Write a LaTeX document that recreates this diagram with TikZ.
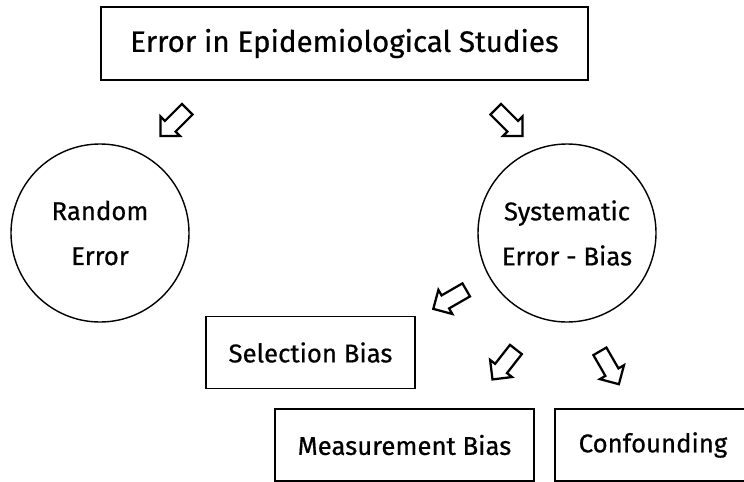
\documentclass[tikz,border=0pt]{standalone}
\usepackage{fontspec}
\setmainfont{Fira Sans}[FakeBold=0.6]
\usepackage{tikz}
\usepackage{tkz-euclide}
\usetikzlibrary{shapes.arrows}

\begin{document}
\begin{tikzpicture}[
    box/.style={draw,line width=1pt,inner sep=0pt,minimum height=1.8cm,font=\fontsize{18.3}{22}\selectfont},
    bubble/.style={draw,circle,line width=1pt,minimum size=4.45cm,inner sep=0pt,align=center,font=\fontsize{18.3}{32}\selectfont},
    hollow/.style={draw,single arrow,line width=1.6pt,minimum height=0.95cm,inner sep=0.16cm,single arrow head extend=0.16cm,single arrow tip angle=90}]
    \useasboundingbox (0,0) rectangle (18.6,12.025);
    \tkzDefPoints{8.6125/10.9375/T,2.5/6.2/R,14.175/6.2/S,7.7625/3.2125/B,10.1125/0.9/M,16.325/0.9/C}
    \tkzDefPoints{4.4125/9.025/a,12.6625/9.025/b,11.325/4.5875/c,12.6625/2.9875/d,15.1875/2.9125/e}
    \node[box,minimum width=12.175cm,minimum height=1.825cm,font=\fontsize{21}{25}\selectfont] (Title) at (T) {Error in Epidemiological Studies};
    \node[bubble] (Rand) at (R) {Random\\Error};
    \node[bubble] (Sys) at (S) {Systematic\\Error - Bias};
    \node[box,minimum width=5.225cm] (Sel) at (B) {Selection Bias};
    \node[box,minimum width=6.475cm] (Meas) at (M) {Measurement Bias};
    \node[box,minimum width=4.9cm] (Conf) at (C) {Confounding};
    \node[hollow,rotate=225] (ArR) at (a) {};
    \node[hollow,rotate=315] (ArS) at (b) {};
    \node[hollow,rotate=210] (ArB) at (c) {};
    \node[hollow,rotate=232] (ArM) at (d) {};
    \node[hollow,rotate=300] (ArC) at (e) {};
\end{tikzpicture}
\end{document}
